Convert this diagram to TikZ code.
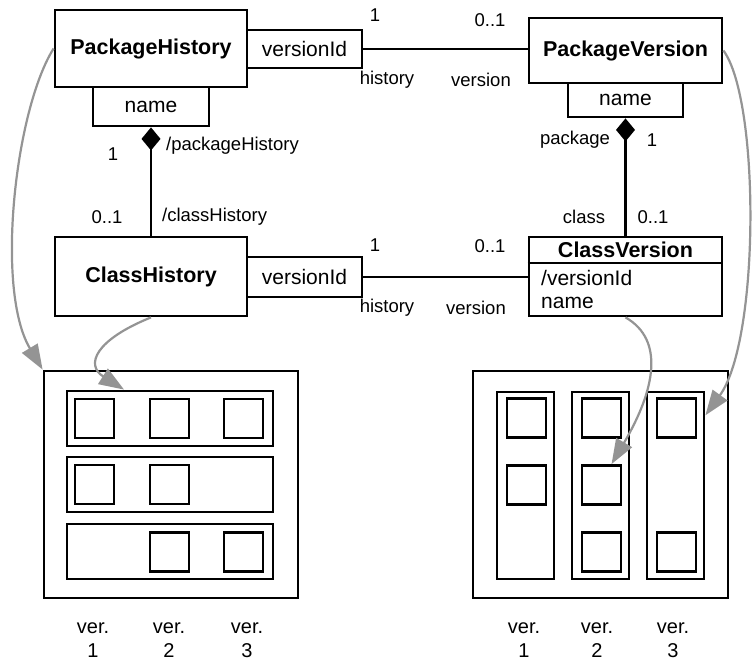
\documentclass[tikz,border=0pt]{standalone}
\usepackage{fontspec}
\setmainfont{Liberation Sans}
\usetikzlibrary{arrows.meta,calc}
\begin{document}
\begin{tikzpicture}[x=1pt,y=-1pt,
  bx/.style={draw,line width=2.8pt,inner sep=0pt,font=\fontsize{21}{24}\selectfont},
  cls/.style={bx,font=\fontsize{21.5}{24}\selectfont\bfseries},
  lbl/.style={inner sep=0pt,font=\fontsize{18.5}{22}\selectfont},
  ver/.style={inner sep=0pt,align=center,font=\fontsize{20}{24}\selectfont},
  sq/.style={draw,line width=2.8pt,minimum size=39pt,inner sep=0pt},
  assoc/.style={line width=2.8pt},
  comp/.style={line width=2.8pt,{Diamond[length=23pt,width=19pt]}-},
  ref/.style={draw=black!42,line width=2.2pt,-{Triangle[length=25pt,width=18pt]}}]
\useasboundingbox (0,0) rectangle (753,662);

% classes
\node[cls,minimum width=192pt,minimum height=77pt] (ph) at (151,48.5) {PackageHistory};
\node[bx,minimum width=115pt,minimum height=38pt] (phv) at (304.5,49) {versionId};
\node[bx,minimum width=116pt,minimum height=39pt] (phn) at (151,106.5) {name};
\node[cls,minimum width=193pt,minimum height=65pt] (pv) at (625.5,50.5) {PackageVersion};
\node[bx,minimum width=115pt,minimum height=34pt] (pvn) at (625.5,100) {name};
\node[cls,minimum width=192pt,minimum height=79pt] (ch) at (151,276.5) {ClassHistory};
\node[bx,minimum width=115pt,minimum height=40pt] (chv) at (304.5,277) {versionId};
\node[bx,minimum width=193pt,minimum height=79pt] (cv) at (625.5,276.5) {};
\draw[line width=2.8pt] (cv.west |- 0,263) -- (cv.east |- 0,263);
\node[inner sep=0pt,font=\fontsize{21.5}{24}\selectfont\bfseries] (cvt) at (625.5,250) {ClassVersion};
\node[inner sep=0pt,anchor=west,font=\fontsize{21}{24}\selectfont] (cva) at (541,278) {/versionId};
\node[inner sep=0pt,anchor=west,font=\fontsize{21}{24}\selectfont] (cvb) at (541,303) {name};

% associations
\draw[assoc] (phv.east) -- (phv.east -| pv.west);
\draw[assoc] (chv.east) -- (chv.east -| cv.west);
\draw[comp] (phn.south) -- (ch.north);
\draw[comp] (pvn.south) -- (cv.north);

% labels
\node[lbl] (l1) at (375,15) {1};
\node[lbl] (l2) at (490,20) {0..1};
\node[lbl] (l3) at (387,80) {history};
\node[lbl] (l4) at (481,80) {version};
\node[lbl] (l5) at (375,245) {1};
\node[lbl] (l6) at (490,246) {0..1};
\node[lbl] (l7) at (387,308) {history};
\node[lbl] (l8) at (476,308) {version};
\node[lbl] (l9) at (113,154) {1};
\node[lbl,anchor=west] (l10) at (166,146) {/packageHistory};
\node[lbl] (l11) at (107,217) {0..1};
\node[lbl,anchor=west] (l12) at (162,217) {/classHistory};
\node[lbl] (l13) at (575,140) {package};
\node[lbl] (l14) at (652,140) {1};
\node[lbl] (l15) at (584,217) {class};
\node[lbl] (l16) at (653,217) {0..1};

% left store
\node[draw,line width=2.8pt,minimum width=254pt,minimum height=227pt] (lb) at (171,484.5) {};
\foreach \r/\y in {1/418.5,2/484.5,3/551.5}
  \node[draw,line width=2.8pt,minimum width=206pt,minimum height=55pt] (r\r) at (170,\y) {};
\node[sq] (a11) at (94.5,418.5) {};
\node[sq] (a12) at (169.5,418.5) {};
\node[sq] (a13) at (243.5,418.5) {};
\node[sq] (a21) at (94.5,484.5) {};
\node[sq] (a22) at (169.5,484.5) {};
\node[sq] (a32) at (169.5,552) {};
\node[sq] (a33) at (243.5,552) {};
\node[ver] (v1) at (93,640) {ver.\\1};
\node[ver] (v2) at (169,640) {ver.\\2};
\node[ver] (v3) at (247,640) {ver.\\3};

% right store
\node[draw,line width=2.8pt,minimum width=255pt,minimum height=227pt] (rb) at (600.5,484.5) {};
\foreach \c/\x in {1/525.5,2/600.5,3/675.5}
  \node[draw,line width=2.8pt,minimum width=57pt,minimum height=187pt] (c\c) at (\x,485.5) {};
\node[sq] (b11) at (526.5,418) {};
\node[sq] (b12) at (526.5,485) {};
\node[sq] (b21) at (601.5,418) {};
\node[sq] (b22) at (601.5,485) {};
\node[sq] (b23) at (601.5,552) {};
\node[sq] (b31) at (676.5,418) {};
\node[sq] (b33) at (676.5,552) {};
\node[ver] (w1) at (524,640) {ver.\\1};
\node[ver] (w2) at (597,640) {ver.\\2};
\node[ver] (w3) at (673,640) {ver.\\3};

% mapping arrows
\draw[ref] (ph.west) .. controls (15,110) and (-5,290) .. (lb.north west);
\draw[ref] (ch.south) .. controls (95,340) and (85,365) .. ($(r1.north west)!0.28!(r1.north east)$);
\draw[ref] (cv.south) .. controls (665,340) and (655,390) .. ($(b22.north west)!0.74!(b22.north east)$);
\draw[ref] (pv.east) .. controls (760,100) and (760,340) .. ($(c3.north east)!0.13!(c3.south east)$);
\end{tikzpicture}
\end{document}
